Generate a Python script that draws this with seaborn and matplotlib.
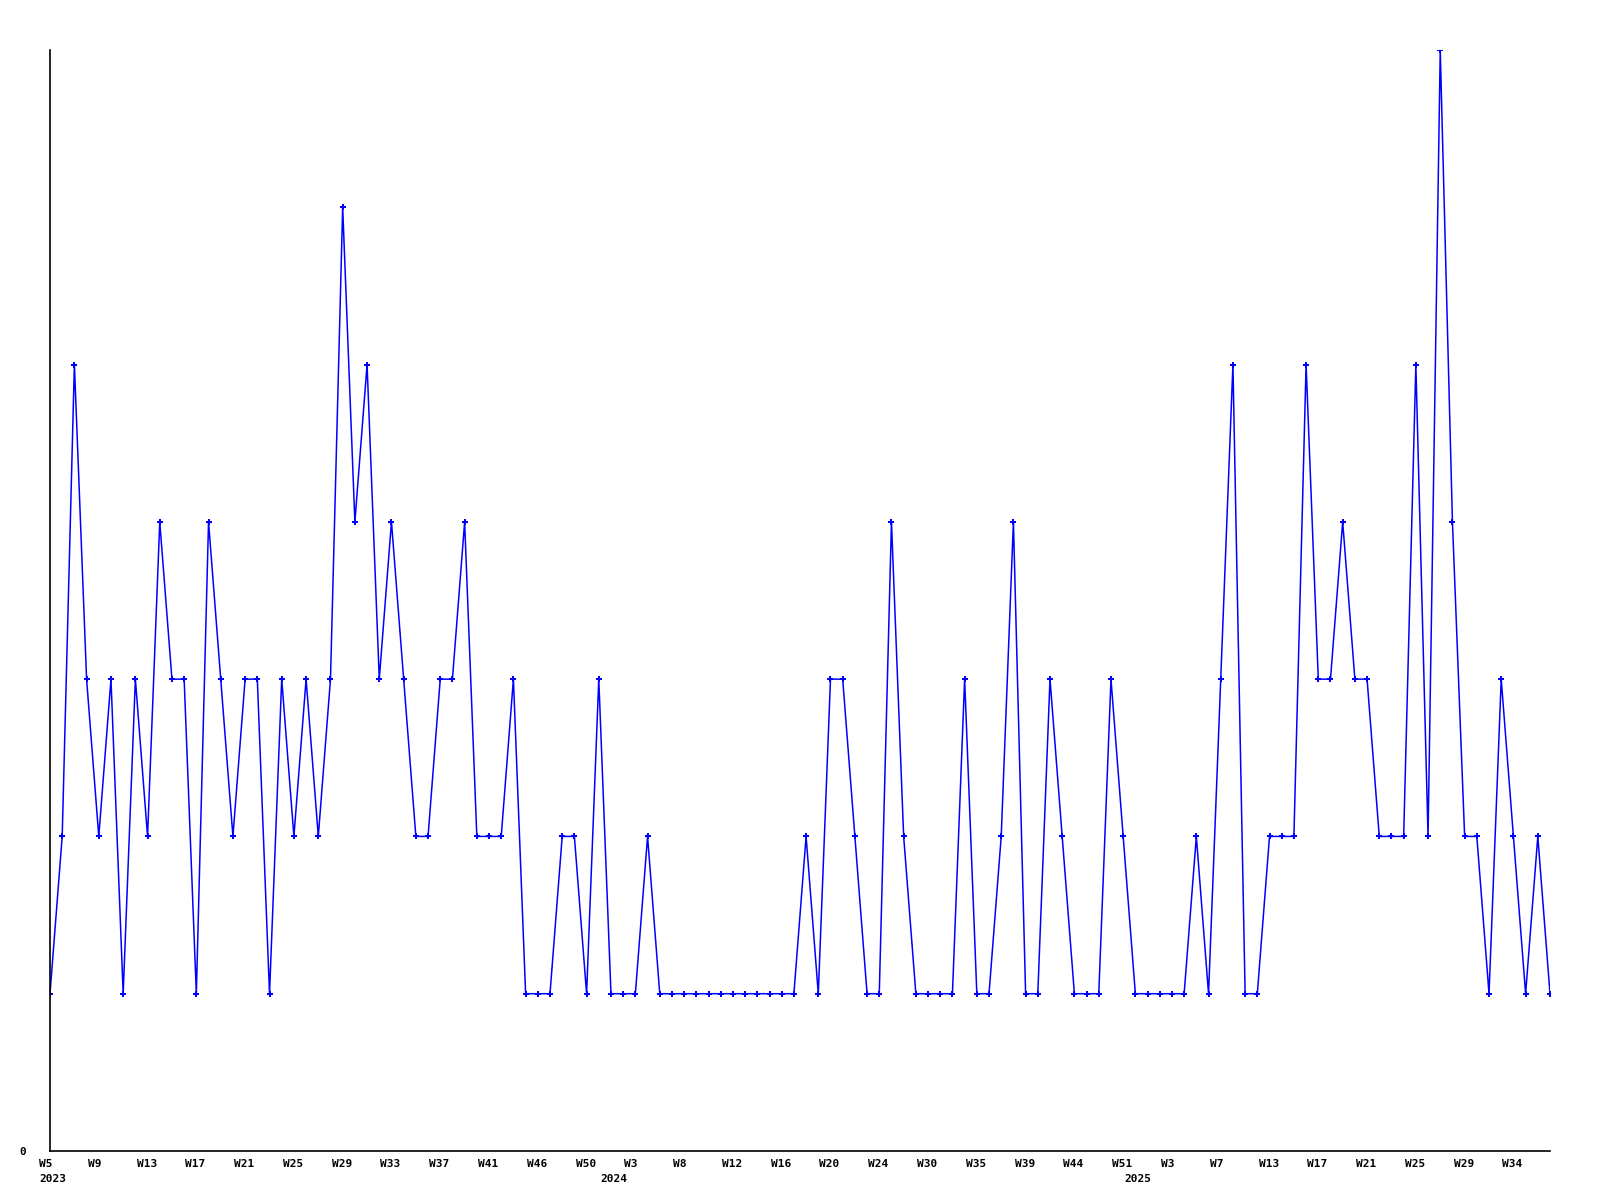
import numpy as np
import pandas as pd
import matplotlib
matplotlib.use("Agg")
import matplotlib.pyplot as plt
import matplotlib.transforms as mtransforms
import seaborn as sns

# weekly counts, one per point
counts = [1, 2, 5, 3, 2, 3, 1, 3, 2, 4, 3, 3, 1, 4, 3, 2, 3, 3, 1, 3,
          2, 3, 2, 3, 6, 4, 5, 3, 4, 3, 2, 2, 3, 3, 4, 2, 2, 2, 3, 1,
          1, 1, 2, 2, 1, 3, 1, 1, 1, 2, 1, 1, 1, 1, 1, 1, 1, 1, 1, 1,
          1, 1, 2, 1, 3, 3, 2, 1, 1, 4, 2, 1, 1, 1, 1, 3, 1, 1, 2, 4,
          1, 1, 3, 2, 1, 1, 1, 3, 2, 1, 1, 1, 1, 1, 2, 1, 3, 5, 1, 1,
          2, 2, 2, 5, 3, 3, 4, 3, 3, 2, 2, 2, 5, 2, 7, 4, 2, 2, 1, 3,
          2, 1, 2, 1]

# every 4th point gets a week label
week_labels = ["W5", "W9", "W13", "W17", "W21", "W25", "W29", "W33", "W37", "W41",
               "W46", "W50", "W3", "W8", "W12", "W16", "W20", "W24", "W30", "W35",
               "W39", "W44", "W51", "W3", "W7", "W13", "W17", "W21", "W25", "W29",
               "W34"]

# point index where each year starts
years = ["2023", "2024", "2025"]
year_start = [0, 46, 89]

df = pd.DataFrame({"idx": np.arange(len(counts)), "count": counts})

sns.set_style("white")
plt.rcParams["font.family"] = ["DejaVu Sans Mono", "DejaVu Sans"]
plt.rcParams["font.weight"] = "bold"
plt.rcParams["text.color"] = "black"
plt.rcParams["xtick.color"] = "black"
plt.rcParams["ytick.color"] = "black"

fig = plt.figure(figsize=(16, 12), dpi=100)
ax = fig.add_axes([50 / 1600, 1 - 1151 / 1200, 1500 / 1600, 1101 / 1200])

sns.lineplot(data=df, x="idx", y="count", ax=ax, color="#0000ff", linewidth=1.1,
             marker="P", markersize=4.5, markeredgewidth=0, sort=False)

ax.set_xlim(0, len(counts) - 1)
ax.set_ylim(0, max(counts))
ax.set_xlabel("")
ax.set_ylabel("")

for side in ["top", "right"]:
    ax.spines[side].set_visible(False)
for side in ["left", "bottom"]:
    ax.spines[side].set_color("black")
    ax.spines[side].set_linewidth(1.2)

ax.set_yticks([0])
ax.set_yticklabels(["0"], fontsize=8, fontweight="bold", color="black")
ax.tick_params(axis="y", length=0, pad=17)

tick_pos = np.arange(0, len(counts), 4)
ax.set_xticks(tick_pos)
ax.set_xticklabels(week_labels, fontsize=8, fontweight="bold", ha="left", color="black")
ax.tick_params(axis="x", length=0, pad=6)
shift = mtransforms.ScaledTranslation(-11 / 100, 0, fig.dpi_scale_trans)
for lab in ax.get_xticklabels():
    lab.set_transform(lab.get_transform() + shift)

for yr, i in zip(years, year_start):
    ax.annotate(yr, xy=(i, 0), xycoords=("data", "axes fraction"),
                xytext=(-11, -23), textcoords="offset pixels",
                ha="left", va="top", fontsize=8, fontweight="bold", color="black")

fig.savefig("out.png", dpi=100, facecolor="white")
